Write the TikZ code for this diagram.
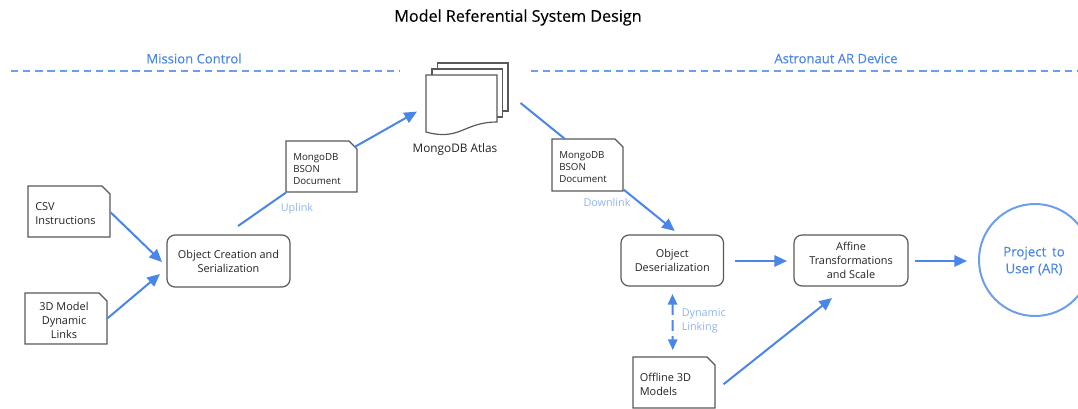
\documentclass[tikz,border=0pt]{standalone}
\usepackage{fontspec}
\setmainfont{Open Sans}
\newfontfamily\medfont[FakeBold=0.25]{Open Sans}
\usetikzlibrary{arrows.meta,calc}
\definecolor{flow}{HTML}{4A86E8}
\definecolor{ring}{HTML}{6D9EEB}
\definecolor{soft}{HTML}{8FB4F0}
\definecolor{edge}{HTML}{595959}
\definecolor{ink}{HTML}{222222}
\tikzset{
  x=0.75pt,y=-0.75pt,
  base/.style={inner sep=0pt,text=ink,font=\fontsize{8.2}{10.6}\selectfont,align=center},
  small/.style={base,font=\fontsize{7.3}{9}\selectfont,align=left},
  frame/.style={draw=edge,line width=0.9pt,inner sep=0pt,outer sep=0pt},
  procbox/.style={frame,rounded corners=6pt,font=\fontsize{8.15}{10.6}\selectfont,text=ink,align=center},
  docshape/.style={draw=edge,line width=0.9pt,fill=white,line join=miter},
  flowline/.style={draw=flow,line width=1.5pt,-{Triangle[length=9.5pt,width=8.5pt]}},
  plainflow/.style={draw=flow,line width=1.5pt},
  zone/.style={draw=ring,line width=0.9pt,dash pattern=on 5.5pt off 3.6pt},
  zonelabel/.style={inner sep=0pt,text=flow,font=\medfont\fontsize{9.8}{11}\selectfont},
  softlabel/.style={inner sep=0pt,text=soft,font=\fontsize{8.1}{10.6}\selectfont,align=left},
}
% name, left, top, right, bottom
\newcommand{\docbox}[5]{%
  \draw[docshape] (#2,#3) -- ({#4-8},#3) -- (#4,{#3+8}) -- (#4,#5) -- (#2,#5) -- cycle;
  \node[inner sep=0pt,minimum width={(#4-#2)*0.75pt},minimum height={(#5-#3)*0.75pt},anchor=north west] (#1) at (#2,#3) {};
}
\begin{document}
\begin{tikzpicture}
\useasboundingbox (0,0) rectangle (1078,408);
\begin{scope}
\clip (0,0) rectangle (1078,408);

\node[inner sep=0pt,text=black,font=\medfont\fontsize{12.1}{14}\selectfont] (title) at (518,17.5) {Model Referential System Design};

\node[zonelabel] (mc) at (194,58.5) {Mission Control};
\node[zonelabel] (ar) at (836,58.5) {Astronaut AR Device};
\coordinate (la) at (11,71); \coordinate (lb) at (400,71);
\coordinate (ra) at (531,71); \coordinate (rb) at (1078,71);
\draw[zone] (la) -- (lb);
\draw[zone] (ra) -- (rb);

% stacked documents
\draw[docshape] (437.5,63) rectangle (508,111);
\draw[docshape] (432,69) rectangle (502.5,117);
\draw[docshape] (426,75) -- (497,75) -- (497,122)
  .. controls (470,122) and (462,135) .. (442,134.5)
  .. controls (435,134.5) and (430,133) .. (426,132) -- cycle;
\node[inner sep=0pt,minimum width=53.25pt,minimum height=44pt,anchor=north west] (atlas) at (426,75) {};
\node[base,font=\fontsize{8.85}{10.6}\selectfont] (atlaslabel) at (455,149) {MongoDB Atlas};

% documents
\docbox{up}{286}{141}{357}{192}
\node[small,anchor=west] (upt) at (293,169.5) {MongoDB\\BSON\\Document};
\docbox{down}{552}{139}{623}{191}
\node[small,anchor=west] (downt) at (559,167.5) {MongoDB\\BSON\\Document};
\docbox{csv}{28}{186}{110}{237}
\node[base,align=left,anchor=west] (csvt) at (35,214) {CSV\\Instructions};
\docbox{links}{25}{293}{107}{344}
\node[base] (linkst) at (64,320.5) {3D Model\\Dynamic\\Links};
\docbox{offline}{633}{357}{715}{408}
\node[base,align=left,anchor=west] (offlinet) at (639.5,384) {Offline 3D\\Models};

% process boxes
\node[procbox,minimum width=92.25pt,minimum height=39pt,anchor=north west] (create) at (167,235) {Object Creation and\\Serialization};
\node[procbox,minimum width=76.9pt,minimum height=38.25pt,anchor=north west] (deser) at (621,235) {Object\\Deserialization};
\node[procbox,minimum width=85.5pt,minimum height=38.25pt,anchor=north west] (affine) at (794,235) {Affine\\Transformations\\and Scale};

% project circle
\node[circle,draw=ring,line width=1.5pt,minimum size=84pt,inner sep=0pt] (user) at (1035,260) {};
\node[inner sep=0pt,text=flow,align=center,font=\medfont\fontsize{10}{12.6}\selectfont] (usert) at (1034,261) {Project\, to\\User (AR)};

% labels on connectors
\node[softlabel] (uplink) at (297,209) {Uplink};
\node[softlabel] (downlink) at (607,202) {Downlink};
\node[softlabel,anchor=west] (dyn) at (681.5,320.5) {Dynamic\\Linking};

% connectors
\draw[flowline] ($(csv.east)+(0,0.5)$) -- ($(create.west)+(-5,1)$);
\draw[flowline] ($(links.east)+(0,-0.5)$) -- ($(create.west)+(-7,13)$);
\draw[plainflow] ($(create.north west)+(71,-9)$) -- (up.south west);
\draw[flowline] ($(up.north east)+(-3,6)$) -- ($(atlas.west)+(-9,7)$);
\draw[plainflow] ($(atlas.north east)+(23,28)$) -- ($(down.north west)+(13,0)$);
\draw[flowline] ($(down.south east)+(0,-2)$) -- ($(deser.north)+(2.5,-4)$);
\draw[flowline] ($(deser.east)+(11,0.5)$) -- ($(affine.west)+(-7,0.5)$);
\draw[flowline] ($(affine.east)+(7,0.5)$) -- ($(user.west)+(-11,1)$);
\draw[draw=flow,line width=1.5pt,dash pattern=on 8pt off 4pt,{Triangle[length=8pt,width=7pt]}-{Triangle[length=8pt,width=7pt]}] ($(deser.south)+(0.2,8)$) -- ($(offline.north)+(-1.5,-7)$);
\draw[flowline] ($(offline.east)+(8,1.5)$) -- ($(affine.south)+(-19,12)$);
\end{scope}
\end{tikzpicture}
\end{document}
